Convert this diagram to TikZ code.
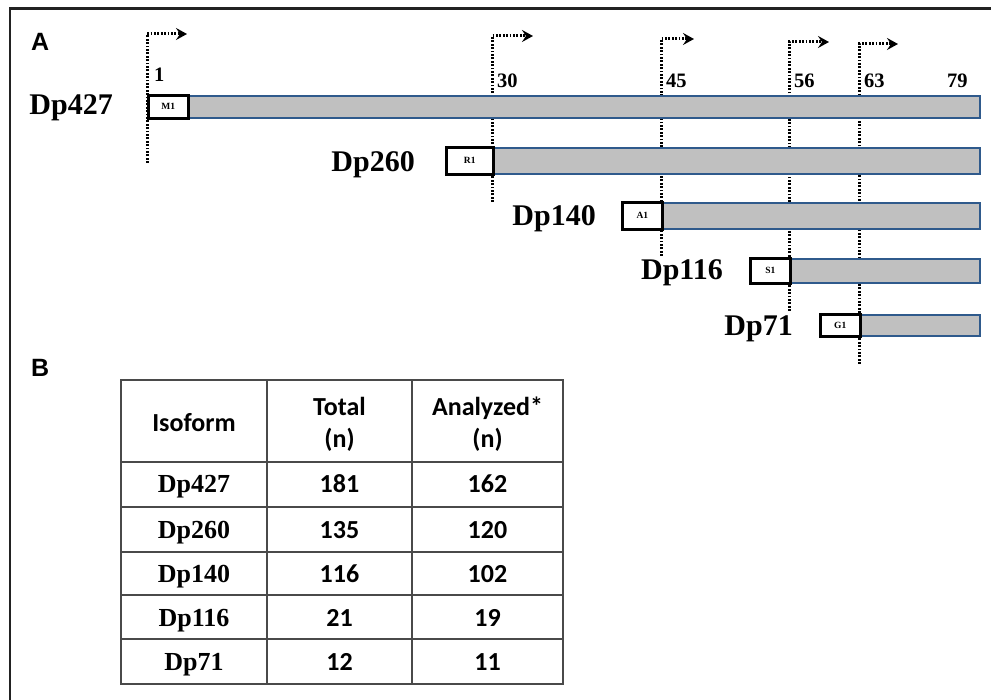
\documentclass[tikz,border=0pt]{standalone}
\usepackage{fontspec}
\setmainfont{Liberation Serif}
\newfontfamily\calfont{Carlito}
\newfontfamily\arialfont{Liberation Sans}
\usetikzlibrary{arrows.meta}
\definecolor{barfill}{HTML}{C0C0C0}
\definecolor{barline}{HTML}{2F5A8C}
\definecolor{framecol}{HTML}{222222}
\definecolor{gridcol}{HTML}{4A4A4A}
\begin{document}
\begin{tikzpicture}[x=1pt,y=-1pt,
  frameline/.style={draw=framecol,line width=2.6pt},
  dotline/.style={draw=black,line width=3pt,dash pattern=on 1.8pt off 1.6pt,
     -{Stealth[length=11pt,width=12pt,inset=4pt]}},
  barbox/.style={draw=barline,fill=barfill,line width=2pt,inner sep=0pt,anchor=north west},
  startbox/.style={draw=black,fill=white,line width=2.6pt,inner sep=0pt,anchor=north west,
     font=\fontsize{9.5}{10}\selectfont\bfseries},
  isolabel/.style={font=\fontsize{30}{32}\selectfont\bfseries,anchor=base east,inner sep=0pt},
  exonnum/.style={font=\fontsize{20.5}{21}\selectfont\bfseries,anchor=base west,inner sep=0pt},
  panel/.style={font=\arialfont\fontsize{25}{26}\selectfont\bfseries,anchor=base west,inner sep=0pt},
  grid/.style={draw=gridcol,line width=1.8pt},
  hdr/.style={font=\calfont\fontsize{26}{32}\selectfont\bfseries,align=center,inner sep=0pt},
  rowname/.style={font=\fontsize{26}{28}\selectfont\bfseries,anchor=base,inner sep=0pt},
  rowval/.style={font=\calfont\fontsize{26}{28}\selectfont\bfseries,anchor=base,inner sep=0pt}
]
\useasboundingbox (0,0) rectangle (991,700);
% frame
\coordinate (fr1) at (991,8.5);
\coordinate (fr2) at (10,8.5);
\coordinate (fr3) at (10,700);
\draw[frameline] (fr1) -- (fr2) -- (fr3);

% panel labels
\node[panel] (pA) at (31,51) {A};
\node[panel] (pB) at (31,377) {B};

% promoter dotted lines with arrows
\coordinate (b1) at (147,163);  \coordinate (t1) at (147,34);  \coordinate (h1) at (187,34);
\coordinate (b2) at (492,202);  \coordinate (t2) at (492,36);  \coordinate (h2) at (533,36);
\coordinate (b3) at (661,256);  \coordinate (t3) at (661,39);  \coordinate (h3) at (694,39);
\coordinate (b4) at (789,311);  \coordinate (t4) at (789,42);  \coordinate (h4) at (829,42);
\coordinate (b5) at (859,364);  \coordinate (t5) at (859,44);  \coordinate (h5) at (898,44);
\draw[dotline] (b1) -- (t1) -- (h1);
\draw[dotline] (b2) -- (t2) -- (h2);
\draw[dotline] (b3) -- (t3) -- (h3);
\draw[dotline] (b4) -- (t4) -- (h4);
\draw[dotline] (b5) -- (t5) -- (h5);

% exon numbers
\node[exonnum] (n1) at (154,82) {1};
\node[exonnum] (n30) at (497,88) {30};
\node[exonnum] (n45) at (666,88) {45};
\node[exonnum] (n56) at (794,88) {56};
\node[exonnum] (n63) at (864,88) {63};
\node[exonnum] (n79) at (947,88) {79};

% Dp427
\node[barbox,minimum width=792pt,minimum height=22pt] (bar427) at (187,95) {};
\node[startbox,minimum width=40pt,minimum height=23pt] (m1) at (147,94) {M1};
\node[isolabel] (l427) at (113,115) {Dp427};
% Dp260
\node[barbox,minimum width=487pt,minimum height=26pt] (bar260) at (492,147) {};
\node[startbox,minimum width=47pt,minimum height=27pt] (r1) at (445,146) {R1};
\node[isolabel] (l260) at (415,172) {Dp260};
% Dp140
\node[barbox,minimum width=318pt,minimum height=26pt] (bar140) at (661,202) {};
\node[startbox,minimum width=40pt,minimum height=27pt] (a1) at (621,201) {A1};
\node[isolabel] (l140) at (596,226) {Dp140};
% Dp116
\node[barbox,minimum width=190pt,minimum height=24pt] (bar116) at (789,258) {};
\node[startbox,minimum width=40pt,minimum height=25pt] (s1) at (749,257) {S1};
\node[isolabel] (l116) at (723,280) {Dp116};
% Dp71
\node[barbox,minimum width=120pt,minimum height=21pt] (bar71) at (859,314) {};
\node[startbox,minimum width=40pt,minimum height=22pt] (g1) at (819,313) {G1};
\node[isolabel] (l71) at (793,336) {Dp71};

% table grid
\coordinate (tl) at (121,380);
\coordinate (br) at (563,684);
\draw[grid] (tl) rectangle (br);
\draw[grid] (267,380) -- (267,684);
\draw[grid] (412,380) -- (412,684);
\draw[grid] (121,462) -- (563,462);
\draw[grid] (121,507) -- (563,507);
\draw[grid] (121,552) -- (563,552);
\draw[grid] (121,595) -- (563,595);
\draw[grid] (121,639) -- (563,639);

% header
\node[hdr,anchor=base] (hIso) at (194,432) {Isoform};
\node[hdr,anchor=center] (hTot) at (339.5,424) {Total\\(n)};
\node[hdr,anchor=center] (hAna) at (487.5,424) {Analyzed*\\(n)};

% rows
\node[rowname] (r427) at (194,493) {Dp427};
\node[rowval] (t427) at (339.5,493) {181};
\node[rowval] (a427) at (487.5,493) {162};
\node[rowname] (r260) at (194,538) {Dp260};
\node[rowval] (t260) at (339.5,538) {135};
\node[rowval] (a260) at (487.5,538) {120};
\node[rowname] (r140) at (194,582) {Dp140};
\node[rowval] (t140) at (339.5,582) {116};
\node[rowval] (a140) at (487.5,582) {102};
\node[rowname] (r116) at (194,626) {Dp116};
\node[rowval] (t116) at (339.5,626) {21};
\node[rowval] (a116) at (487.5,626) {19};
\node[rowname] (r71) at (194,670) {Dp71};
\node[rowval] (t71) at (339.5,670) {12};
\node[rowval] (a71) at (487.5,670) {11};
\end{tikzpicture}
\end{document}
